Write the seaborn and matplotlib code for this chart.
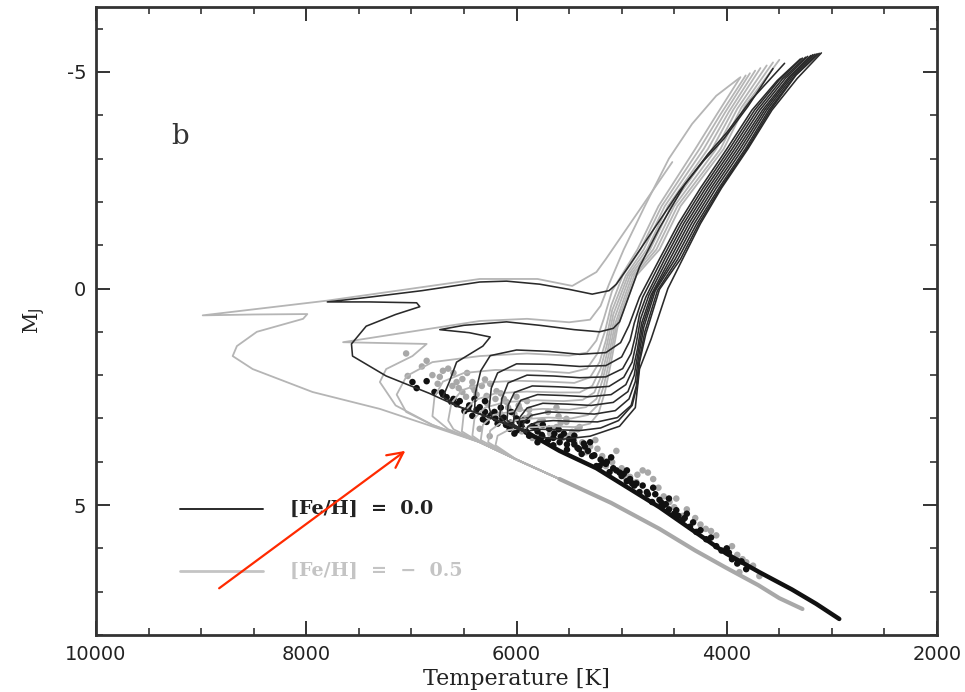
import matplotlib
matplotlib.use("Agg")
import matplotlib.pyplot as plt
from matplotlib.ticker import MultipleLocator, FixedLocator
import seaborn as sns
import pandas as pd

# ---------------- data ----------------
# shared lower main sequences
black_ms_T = [2930, 3150, 3380, 3690, 4005, 4640, 5240, 5590, 5880]
black_ms_M = [7.63, 7.28, 6.95, 6.55, 6.12, 5.05, 4.15, 3.75, 3.35]
gray_ms_T = [3280, 3500, 3700, 4005, 4300, 4640, 5100, 5590]
gray_ms_M = [7.40, 7.15, 6.85, 6.45, 6.05, 5.55, 4.95, 4.40]

# [Fe/H] = 0.0 isochrones (upper parts), young -> old
black_iso_T = [
    [5880, 6230, 6560, 6830, 7240, 7560, 7570, 7430, 7150, 6920, 6950, 7400, 7800, 7400, 6900, 6350, 6095, 5780, 5500, 5280, 5120, 5050, 4930, 4700, 4450, 4220, 4030, 3800, 3560],
    [5880, 6230, 6560, 6700, 6640, 6570, 6320, 6250, 6450, 6730, 6500, 6095, 5780, 5450, 5210, 5080, 5020, 4950, 4830, 4640, 4400, 4180, 4000, 3770, 3450],
    [5880, 6230, 6400, 6390, 6340, 6250, 6000, 5700, 5400, 5150, 5010, 4930, 4830, 4640, 4460, 4250, 4000, 3760, 3520, 3300],
    [5880, 6230, 6260, 6240, 6180, 6000, 5700, 5400, 5150, 5000, 4920, 4880, 4800, 4615, 4435, 4225, 3975, 3735, 3500, 3280],
    [5880, 6100, 6160, 6140, 6080, 5900, 5650, 5400, 5150, 4990, 4910, 4870, 4830, 4770, 4590, 4410, 4200, 3950, 3710, 3470, 3250],
    [5880, 6090, 6080, 6020, 5850, 5600, 5350, 5120, 4980, 4900, 4860, 4820, 4740, 4565, 4385, 4175, 3925, 3685, 3440, 3230],
    [5880, 6030, 6020, 5960, 5800, 5560, 5320, 5100, 4960, 4890, 4850, 4810, 4720, 4540, 4360, 4150, 3900, 3660, 3410, 3200],
    [5880, 5980, 5970, 5900, 5750, 5520, 5290, 5080, 4940, 4880, 4845, 4800, 4700, 4515, 4335, 4125, 3875, 3640, 3390, 3180],
    [5880, 5940, 5930, 5860, 5700, 5480, 5260, 5060, 4930, 4870, 4840, 4790, 4680, 4490, 4310, 4100, 3850, 3620, 3370, 3160],
    [5880, 5910, 5890, 5800, 5650, 5440, 5230, 5040, 4910, 4860, 4835, 4780, 4660, 4465, 4285, 4075, 3825, 3600, 3350, 3140],
    [5900, 5870, 5780, 5620, 5400, 5200, 5030, 4900, 4850, 4830, 4770, 4640, 4440, 4265, 4060, 3810, 3585, 3340, 3120],
    [5880, 5750, 5560, 5300, 5020, 4870, 4830, 4720, 4560, 4420, 4250, 4050, 3800, 3570, 3330, 3100],
]
black_iso_M = [
    [3.35, 3.00, 2.72, 2.42, 2.02, 1.56, 1.28, 0.87, 0.60, 0.42, 0.33, 0.31, 0.31, 0.20, 0.05, -0.15, -0.17, -0.10, 0.02, 0.13, 0.05, -0.10, -0.52, -1.35, -2.25, -2.95, -3.45, -4.20, -5.08],
    [3.35, 3.00, 2.72, 2.50, 2.16, 1.70, 1.33, 1.12, 1.02, 0.95, 0.85, 0.77, 0.85, 0.95, 1.00, 0.92, 0.77, 0.30, -0.50, -1.40, -2.40, -3.10, -3.60, -4.35, -5.20],
    [3.35, 3.00, 2.85, 2.40, 1.90, 1.55, 1.42, 1.45, 1.52, 1.48, 1.25, 0.85, 0.20, -0.68, -1.50, -2.32, -3.22, -4.12, -4.80, -5.30],
    [3.35, 3.00, 2.75, 2.30, 1.95, 1.74, 1.75, 1.80, 1.78, 1.58, 1.20, 0.80, 0.20, -0.68, -1.50, -2.32, -3.22, -4.12, -4.82, -5.32],
    [3.35, 3.10, 2.95, 2.55, 2.18, 2.00, 2.02, 2.06, 2.04, 1.85, 1.50, 1.10, 0.60, 0.20, -0.68, -1.50, -2.32, -3.22, -4.12, -4.84, -5.34],
    [3.35, 3.05, 2.70, 2.40, 2.25, 2.27, 2.30, 2.26, 2.05, 1.70, 1.25, 0.70, 0.15, -0.68, -1.50, -2.32, -3.22, -4.12, -4.86, -5.36],
    [3.35, 3.15, 2.85, 2.58, 2.45, 2.47, 2.50, 2.45, 2.22, 1.85, 1.40, 0.80, 0.15, -0.68, -1.50, -2.32, -3.22, -4.12, -4.88, -5.38],
    [3.35, 3.20, 2.98, 2.76, 2.65, 2.67, 2.70, 2.63, 2.38, 2.00, 1.50, 0.85, 0.10, -0.68, -1.50, -2.32, -3.22, -4.12, -4.90, -5.40],
    [3.35, 3.25, 3.08, 2.93, 2.85, 2.87, 2.90, 2.82, 2.55, 2.15, 1.60, 0.90, 0.05, -0.68, -1.50, -2.32, -3.22, -4.12, -4.91, -5.41],
    [3.35, 3.30, 3.18, 3.08, 3.05, 3.07, 3.08, 2.98, 2.70, 2.25, 1.70, 1.00, 0.05, -0.68, -1.50, -2.32, -3.22, -4.12, -4.92, -5.42],
    [3.33, 3.28, 3.25, 3.26, 3.28, 3.22, 3.05, 2.70, 2.20, 1.70, 1.05, 0.02, -0.68, -1.50, -2.32, -3.22, -4.12, -4.93, -5.43],
    [3.38, 3.44, 3.48, 3.41, 3.18, 2.75, 1.86, 1.17, 0.00, -0.68, -1.50, -2.32, -3.22, -4.12, -4.85, -5.44],
]

# [Fe/H] = -0.5 isochrones (upper parts), young -> old
gray_iso_T = [
    [5590, 6000, 6350, 7300, 7940, 8510, 8700, 8660, 8470, 8030, 7990, 8500, 8985, 7800, 6350, 5800, 5470, 5240, 5150, 4518],
    [5590, 6000, 6350, 6800, 7150, 7300, 7240, 6990, 6855, 7250, 7650, 6350, 5900, 5500, 5300, 5200, 5120, 4980, 4780, 4550, 4330, 4100, 3880],
    [5590, 6000, 6350, 6800, 7050, 7140, 7045, 6800, 6350, 5900, 5500, 5330, 5240, 5170, 5090, 4850, 4650, 4300, 4100, 3870],
    [5590, 6000, 6350, 6650, 6800, 6780, 6700, 6500, 6200, 5800, 5500, 5330, 5230, 5160, 5100, 4990, 4820, 4620, 4260, 4060, 3820],
    [5590, 6000, 6350, 6600, 6650, 6620, 6520, 6300, 6000, 5700, 5450, 5300, 5210, 5150, 5090, 4960, 4790, 4590, 4220, 4020, 3780],
    [5590, 6000, 6350, 6520, 6500, 6400, 6200, 5900, 5600, 5400, 5280, 5200, 5140, 5080, 4940, 4760, 4560, 4180, 3980, 3730],
    [5590, 6000, 6300, 6420, 6400, 6300, 6100, 5800, 5550, 5370, 5260, 5190, 5130, 5070, 4920, 4730, 4530, 4140, 3940, 3680],
    [5590, 6000, 6340, 6320, 6220, 6000, 5750, 5500, 5340, 5240, 5180, 5120, 5060, 4900, 4700, 4500, 4100, 3900, 3620],
    [5590, 6000, 6270, 6250, 6150, 5950, 5700, 5480, 5320, 5230, 5170, 5110, 5050, 4880, 4670, 4470, 4060, 3860, 3560],
    [5590, 6000, 6200, 6180, 6080, 5900, 5650, 5450, 5300, 5220, 5160, 5100, 5040, 4860, 4640, 4440, 4030, 3830, 3500],
]
gray_iso_M = [
    [4.40, 3.95, 3.55, 2.78, 2.39, 1.86, 1.56, 1.33, 1.00, 0.70, 0.59, 0.60, 0.62, 0.28, -0.22, -0.22, -0.06, -0.38, -0.68, -2.92],
    [4.40, 3.95, 3.55, 3.15, 2.70, 2.16, 1.86, 1.56, 1.28, 1.26, 1.24, 0.75, 0.70, 0.78, 0.72, 0.40, -0.10, -0.90, -1.90, -3.00, -3.80, -4.45, -4.86],
    [4.40, 3.95, 3.55, 3.15, 2.85, 2.45, 2.02, 1.70, 1.56, 1.50, 1.55, 1.48, 1.20, 0.70, 0.05, -0.90, -1.90, -3.22, -4.00, -4.88],
    [4.40, 3.95, 3.55, 3.25, 2.95, 2.50, 2.15, 1.95, 1.88, 1.90, 1.95, 1.85, 1.50, 1.00, 0.40, -0.30, -0.90, -1.90, -3.22, -4.02, -4.92],
    [4.40, 3.95, 3.55, 3.25, 3.05, 2.65, 2.35, 2.17, 2.13, 2.15, 2.18, 2.05, 1.70, 1.20, 0.50, -0.30, -0.90, -1.90, -3.22, -4.05, -4.97],
    [4.40, 3.95, 3.55, 3.30, 2.85, 2.58, 2.42, 2.38, 2.40, 2.40, 2.25, 1.85, 1.30, 0.60, -0.30, -0.90, -1.90, -3.22, -4.08, -5.03],
    [4.40, 3.95, 3.60, 3.40, 3.00, 2.75, 2.62, 2.58, 2.60, 2.57, 2.40, 2.00, 1.40, 0.70, -0.30, -0.90, -1.90, -3.22, -4.12, -5.09],
    [4.40, 3.95, 3.50, 3.15, 2.92, 2.82, 2.78, 2.80, 2.74, 2.55, 2.10, 1.50, 0.80, -0.30, -0.90, -1.90, -3.22, -4.15, -5.15],
    [4.40, 3.95, 3.55, 3.28, 3.10, 3.02, 2.98, 3.00, 2.92, 2.70, 2.25, 1.60, 0.85, -0.30, -0.90, -1.90, -3.22, -4.18, -5.22],
    [4.40, 3.95, 3.62, 3.40, 3.27, 3.21, 3.18, 3.20, 3.12, 2.88, 2.40, 1.70, 0.90, -0.30, -0.90, -1.90, -3.22, -4.20, -5.28],
]

# observed stars
black_dots_T = [6990, 6855, 6780, 6665, 6570, 6495, 6420, 6350, 6285, 6210, 6135, 6065, 5970, 5905,
                5850, 5755, 5690, 5590, 5500, 5405, 5280, 5210, 5115, 5000, 5240, 4830, 4710, 4290,
                4195, 3950, 3815, 6950, 6710, 6600, 6450, 6300, 6200, 6100, 6000, 5950, 5800, 5650,
                5550, 5450, 5350, 5150, 5050, 4950, 4900, 4750, 4600, 4550, 4500, 4420, 4350, 4100,
                4050, 3900, 6300, 6150, 6050, 5900, 5750, 5600, 5450, 5300, 5100, 4950, 4700, 4550,
                4380, 6400, 6250, 6020, 5800, 5650, 5520, 5380, 5180, 4880, 4620,
                6700, 6620, 6540, 6460, 6380, 6320, 6240, 6180, 6120, 6060, 6000, 5940, 5880, 5820,
                5760, 5700, 5640, 5580, 5520, 5460, 5420, 5360, 5320, 5260, 5200, 5140, 5080, 5020,
                4980, 4920, 4860, 4800, 4760, 4680, 4640, 4580, 4480, 4460, 4400, 4320, 4250, 4150,
                4000, 3980, 3860]
black_dots_M = [2.16, 2.14, 2.39, 2.51, 2.67, 2.83, 2.94, 2.74, 3.08, 2.85, 3.01, 3.24, 3.08, 3.31,
                3.18, 3.41, 3.24, 3.55, 3.48, 3.71, 3.87, 4.10, 4.24, 4.33, 4.10, 4.70, 4.93, 5.62,
                5.79, 6.25, 6.48, 2.30, 2.40, 2.55, 2.70, 2.85, 3.00, 3.15, 3.00, 3.20, 3.30, 3.45,
                3.35, 3.60, 3.65, 4.05, 4.20, 4.45, 4.50, 4.75, 5.00, 5.10, 5.20, 5.35, 5.50, 5.95,
                6.05, 6.35, 2.60, 2.75, 2.85, 3.05, 3.15, 3.25, 3.40, 3.55, 3.90, 4.20, 4.60, 4.85,
                5.20, 2.55, 2.95, 3.35, 3.55, 3.62, 3.72, 3.82, 4.02, 4.55, 4.95,
                2.45, 2.62, 2.60, 2.78, 2.80, 3.02, 2.92, 3.12, 2.98, 3.10, 3.28, 3.05, 3.40, 3.22,
                3.38, 3.50, 3.35, 3.42, 3.60, 3.50, 3.68, 3.58, 3.75, 3.85, 3.95, 4.00, 4.15, 4.25,
                4.28, 4.40, 4.50, 4.55, 4.70, 4.75, 4.88, 4.98, 5.12, 5.25, 5.30, 5.40, 5.58, 5.75,
                6.00, 6.10, 6.30]
gray_dots_T = [6855, 7035, 6730, 6610, 6515, 6420, 6570, 6515, 6420, 6285, 6190, 6095, 6350, 6255,
               5970, 5875, 5780, 5660, 5525, 5470, 5375, 5335, 5185, 5090, 4955, 5185, 4955, 4860,
               4545, 4420, 4005, 3815, 3690, 3880, 5525, 7050, 6700, 6300, 6000, 5900, 5700, 5600,
               5400, 5250, 5050, 4800, 4700, 4650, 4300, 4200, 4100, 3950, 3750, 6150, 6050, 5950,
               5850, 6470, 6650, 6380, 6250, 6120, 5620, 5560, 4750, 4480,
               6900, 6800, 6750, 6600, 6550, 6480, 6400, 6330, 6280, 6200, 6150, 6080, 6020, 5980,
               5920, 5880, 5820, 5750, 5680, 5620, 5580, 5500, 5450, 5420, 5300, 5230, 5150, 5100,
               5000, 4920, 4850, 4600, 4500, 4380, 4250, 4150, 3900, 3850]
gray_dots_M = [1.67, 2.02, 2.04, 2.25, 2.09, 2.16, 2.16, 2.39, 2.27, 2.48, 2.37, 2.62, 3.24, 3.41,
               2.78, 2.94, 3.08, 3.24, 3.08, 3.31, 3.55, 3.78, 3.87, 4.01, 4.33, 3.94, 4.40, 4.47,
               4.93, 5.25, 6.02, 6.32, 6.64, 6.55, 3.01, 1.50, 1.90, 2.10, 2.50, 2.60, 2.85, 2.95,
               3.20, 3.50, 3.75, 4.20, 4.40, 4.60, 5.30, 5.55, 5.70, 5.95, 6.40, 2.90, 3.10, 3.30,
               3.45, 1.95, 1.85, 2.45, 2.20, 2.55, 2.75, 3.45, 4.25, 4.85,
               1.80, 2.00, 2.20, 1.95, 2.30, 2.50, 2.35, 2.25, 2.65, 2.55, 2.42, 2.75, 2.90, 2.70,
               3.00, 2.80, 3.15, 3.05, 3.35, 3.20, 3.10, 3.40, 3.55, 3.25, 3.65, 3.70, 4.10, 3.90,
               4.15, 4.35, 4.30, 4.80, 5.05, 5.10, 5.45, 5.60, 6.15, 6.25]

legend_labels = ["[Fe/H]  =  0.0", "[Fe/H]  =  \u2212  0.5"]
panel_label = "b"

BLACK = "#2a2a2a"
GRAY = "#b5b5b5"

# ---------------- build tables ----------------
def build(ts, ms, ms_T, ms_M, tag):
    rows = [(t, m, f"{tag}ms") for t, m in zip(ms_T, ms_M)]
    for k, (tl, ml) in enumerate(zip(ts, ms)):
        rows += [(t, m, f"{tag}{k}") for t, m in zip(tl, ml)]
    return pd.DataFrame(rows, columns=["T", "M", "iso"])

df_black = build(black_iso_T, black_iso_M, black_ms_T, black_ms_M, "b")
df_gray = build(gray_iso_T, gray_iso_M, gray_ms_T, gray_ms_M, "g")
dots_black = pd.DataFrame({"T": black_dots_T, "M": black_dots_M})
dots_gray = pd.DataFrame({"T": gray_dots_T, "M": gray_dots_M})

# ---------------- figure ----------------
sns.set_style("ticks")
plt.rcParams["axes.unicode_minus"] = False
plt.rcParams["font.family"] = ["DejaVu Sans"]

fig = plt.figure(figsize=(9.65, 6.92), dpi=100)
ax = fig.add_axes([0.0995, 0.0824, 0.8715, 0.9075])

sns.lineplot(data=df_gray, x="T", y="M", units="iso", estimator=None, sort=False,
             color=GRAY, lw=1.3, ax=ax, legend=False)
sns.lineplot(data=df_black, x="T", y="M", units="iso", estimator=None, sort=False,
             color=BLACK, lw=1.15, ax=ax, legend=False)
sns.scatterplot(data=dots_gray, x="T", y="M", color="#a8a8a8", s=22, edgecolor="none", ax=ax)
sns.scatterplot(data=dots_black, x="T", y="M", color="#111111", s=22, edgecolor="none", ax=ax)
# thick lower main sequences
ax.plot(gray_ms_T, gray_ms_M, color="#a8a8a8", lw=3.0, solid_capstyle="round", zorder=2)
ax.plot(black_ms_T, black_ms_M, color="#111111", lw=3.2, solid_capstyle="round", zorder=3)

ax.set_xlim(10000, 2000)
ax.set_ylim(8.0, -6.5)
ax.xaxis.set_major_locator(FixedLocator([10000, 8000, 6000, 4000, 2000]))
ax.xaxis.set_minor_locator(MultipleLocator(500))
ax.yaxis.set_major_locator(FixedLocator([-5, 0, 5]))
ax.yaxis.set_minor_locator(MultipleLocator(1))
ax.tick_params(which="both", direction="in", top=True, right=True, color="#333333")
ax.tick_params(which="major", length=10, width=1.4, labelsize=14, pad=7, labelcolor="#222222")
ax.tick_params(which="minor", length=5, width=1.2)
for s in ax.spines.values():
    s.set_linewidth(2.0)
    s.set_color("#333333")

ax.set_xlabel("Temperature [K]", family="DejaVu Serif", fontsize=16, color="#222222", labelpad=3)
ax.set_ylabel(r"M$_{\rm J}$", family="DejaVu Serif", fontsize=15, color="#222222", labelpad=14)

ax.text(9200, -3.5, panel_label, family="DejaVu Serif", fontsize=20, color="#333333",
        ha="center", va="center")

# legend drawn as lines + texts
ax.plot([9200, 8410], [5.1, 5.1], color=BLACK, lw=1.4)
ax.text(8150, 5.1, legend_labels[0], family="DejaVu Serif", fontweight="bold", fontsize=13.8,
        color="#222222", va="center", ha="left")
ax.plot([9200, 8410], [6.53, 6.53], color="#c4c4c4", lw=2.0)
ax.text(8150, 6.53, legend_labels[1], family="DejaVu Serif", fontweight="bold", fontsize=13.8,
        color="#c4c4c4", va="center", ha="left")

# red arrow annotation
ax.annotate("", xy=(7036, 3.71), xytext=(8850, 6.96),
            arrowprops=dict(arrowstyle="->", color="#ff2a00", lw=1.6, mutation_scale=28),
            zorder=10)

fig.savefig("out.png", dpi=100)
